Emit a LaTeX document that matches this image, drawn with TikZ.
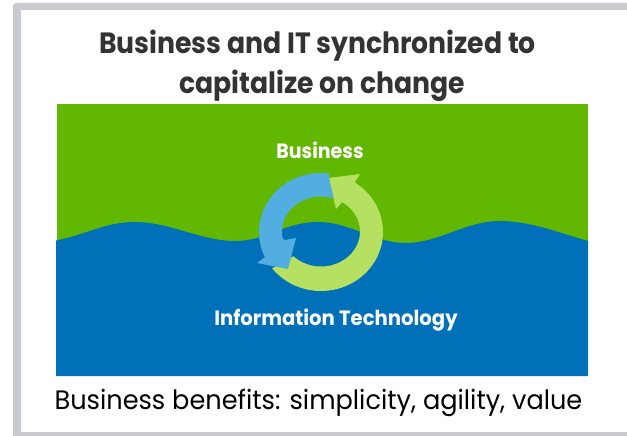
\documentclass[tikz,border=0pt]{standalone}
\usepackage{fontspec}
\setmainfont{Poppins}
\definecolor{frameg}{HTML}{C9CACF}
\definecolor{leaf}{HTML}{62B800}
\definecolor{sea}{HTML}{0071B8}
\definecolor{lightleaf}{HTML}{B5E061}
\definecolor{lightsea}{HTML}{52ADE0}
\definecolor{ink}{HTML}{333333}
\tikzset{
  titletext/.style={text=ink,font=\fontsize{22}{26}\selectfont\bfseries,inner sep=0pt,anchor=base},
  labeltext/.style={text=white,font=\fontsize{15.5}{18}\selectfont\bfseries,inner sep=0pt,anchor=base},
  captiontext/.style={text=black,font=\fontsize{20}{24}\selectfont,inner sep=0pt,anchor=base}
}
\begin{document}
\begin{tikzpicture}[x=0.75pt,y=-0.75pt]
\useasboundingbox (0,0) rectangle (627,435);
\clip (0,0) rectangle (627,435);
\fill[white] (0,0) rectangle (627,435);
% frame
\fill[frameg,rounded corners=2.5pt] (13,3) rectangle (650,460);
\fill[white] (21,10.5) rectangle (640,431.5);
% land and water
\fill[leaf] (57,104) rectangle (588,245);
\fill[sea] (56,376) -- (56,240.5)
  .. controls (85,235) and (105,222) .. (135,222)
  .. controls (170,222) and (200,241) .. (236,241)
  .. controls (265,241) and (285,222) .. (318,222)
  .. controls (350,222) and (375,243) .. (405,243)
  .. controls (440,243) and (465,221) .. (500,221)
  .. controls (530,221) and (560,233) .. (588,241)
  -- (588,376) -- cycle;
% green arrow
\fill[lightleaf] plot[domain=-57:142,samples=60] ({321+62*cos(\x)},{232+59*sin(\x)})
  -- plot[domain=135:-57,samples=60] ({321+39*cos(\x)},{231.5+35*sin(\x)})
  -- (336,209) -- (329,178) -- (360,174) -- cycle;
% blue arrow: band under the green head, head over the green tail
\begin{scope}
\clip (200,150) -- (329,150) -- (329,178) -- (336,209) -- (336,240) -- (200,300) -- cycle;
\fill[lightsea] plot[domain=-70:-205,samples=70] ({321+62*cos(\x)},{232+59*sin(\x)})
  -- (265,258) -- (285,240)
  -- plot[domain=-192:-60,samples=60] ({321+39*cos(\x)},{231.5+35*sin(\x)}) -- cycle;
\end{scope}
\fill[lightsea] (257,263) -- (288,269) -- (296,238) -- (285,240) -- (265,257) -- cycle;
% texts
\node[titletext] (title1) at (317.5,54) {\scalebox{.91}[1]{Business and IT synchronized to}};
\node[titletext] (title2) at (322,93) {\scalebox{.91}[1]{capitalize on change}};
\node[labeltext] (biz) at (320,158) {\scalebox{.92}[1]{Business}};
\node[labeltext] (it) at (336,325) {\scalebox{.95}[1]{Information Technology}};
\node[captiontext] (cap) at (318.5,409) {\scalebox{.96}[1]{Business benefits: simplicity, agility, value}};
\end{tikzpicture}
\end{document}
